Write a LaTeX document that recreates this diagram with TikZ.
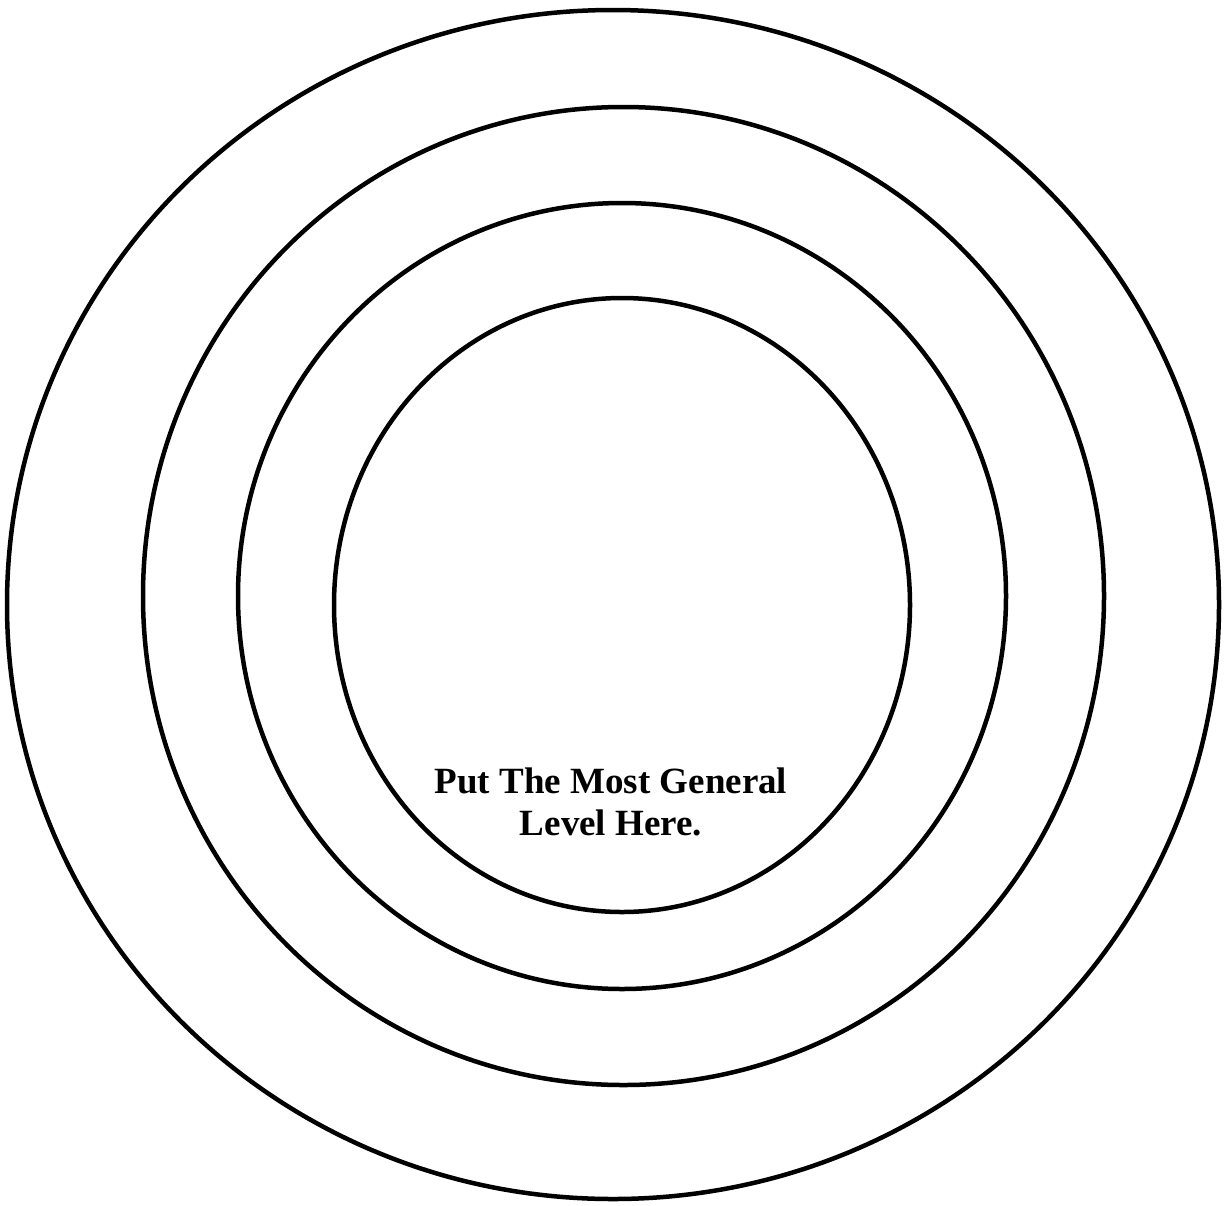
\documentclass[tikz,border=0pt]{standalone}
\usepackage{fontspec}
\setmainfont{Liberation Serif}
\tikzset{ring/.style={draw=black, line width=4.5pt}}
\begin{document}
\begin{tikzpicture}[x=1pt,y=-1pt]
\useasboundingbox (0,0) rectangle (1225,1205);
\draw[ring] (613,604.5) ellipse [x radius=606, y radius=594.5];
\draw[ring] (623.5,596) ellipse [x radius=480.5, y radius=489];
\draw[ring] (622,596) ellipse [x radius=384, y radius=393];
\draw[ring] (622,605) ellipse [x radius=288, y radius=307];
\node[inner sep=0pt, align=center, anchor=base, font=\fontsize{37}{42}\selectfont\bfseries] (label) at (611,835) {Put The Most General\\Level Here.};
\end{tikzpicture}
\end{document}
